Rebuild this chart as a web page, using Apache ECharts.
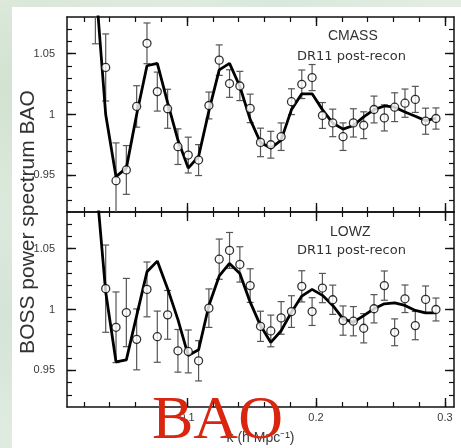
<!DOCTYPE html>
<html>
<head>
<meta charset="utf-8">
<style>
  html, body { margin: 0; padding: 0; }
  body {
    width: 461px; height: 448px; overflow: hidden; position: relative;
    background:
      radial-gradient(ellipse at 8% 20%, #cfe1cf 0%, rgba(207,225,207,0) 30%),
      radial-gradient(ellipse at 3% 70%, #d3e4d6 0%, rgba(211,228,214,0) 35%),
      radial-gradient(ellipse at 60% 0%, #d8e8dc 0%, rgba(216,232,220,0) 40%),
      #e3ede2;
  }
  #sheet { position: absolute; left: 12px; top: 7px; right: 0; bottom: 0; background: #ffffff; }
  #chart { position: absolute; left: 0; top: 0; width: 461px; height: 448px; }
</style>
<script src="https://cdn.jsdelivr.net/npm/echarts@6/dist/echarts.min.js"></script>
</head>
<body>
<div id="sheet"></div>
<div id="chart"></div>
<script>
// Wavenumber bins k [h/Mpc]
const kBins = [0.029, 0.037, 0.045, 0.053, 0.061, 0.069, 0.077, 0.085, 0.093, 0.101,
               0.109, 0.117, 0.125, 0.133, 0.141, 0.149, 0.157, 0.165, 0.173, 0.181,
               0.189, 0.197, 0.205, 0.213, 0.221, 0.229, 0.237, 0.245, 0.253, 0.261,
               0.269, 0.277, 0.285, 0.293];

// CMASS measured BAO ratio and 1-sigma errors (one per k bin)
const cmassPk  = [1.090, 1.0386, 0.9457, 0.9545, 1.0066, 1.0584, 1.0188, 1.0047, 0.9736, 0.9667,
                  0.9626, 1.0074, 1.0446, 1.0254, 1.0234, 1.0050, 0.9771, 0.9752, 0.9818, 1.0105,
                  1.0248, 1.0303, 0.9992, 0.9931, 0.9818, 0.9931, 0.9912, 1.0041, 0.9972, 1.0060,
                  1.0093, 1.0124, 0.9945, 0.9967];
const cmassErr = [0.032, 0.0275, 0.031, 0.020, 0.017, 0.0167, 0.016, 0.016, 0.0146, 0.0147,
                  0.0127, 0.011, 0.0125, 0.0113, 0.012, 0.0117, 0.0117, 0.011, 0.0113, 0.0106,
                  0.0117, 0.0107, 0.0106, 0.0113, 0.0113, 0.0116, 0.011, 0.011, 0.0107, 0.0118,
                  0.0116, 0.0107, 0.0107, 0.0087];
// CMASS best-fit model
const cmassModel = [1.110, 1.000, 0.949, 0.956, 1.000, 1.040, 1.042, 1.0097, 0.979, 0.956,
                    0.9655, 1.003, 1.0366, 1.042, 1.023, 0.996, 0.977, 0.9725, 0.979, 1.004,
                    1.017, 1.017, 1.004, 0.993, 0.988, 0.991, 0.998, 1.004, 1.007, 1.006,
                    1.002, 0.9986, 0.995, 0.997];

// LOWZ measurements start at the second k bin
const lowzK   = kBins.slice(1);
const lowzPk  = [1.0171, 0.9854, 0.9975, 0.9755, 1.0165, 0.9777, 0.9956, 0.9661, 0.9656, 0.9579,
                 1.0011, 1.0413, 1.0485, 1.0370, 1.0196, 0.9862, 0.9824, 0.9931, 0.9983, 1.0190,
                 0.9983, 1.0176, 1.0080, 0.9909, 0.9904, 0.9846, 1.0006, 1.0196, 0.9813, 1.0088,
                 0.9868, 1.0083, 1.0000];
const lowzErr = [0.0358, 0.029, 0.028, 0.025, 0.0225, 0.021, 0.020, 0.0175, 0.0176, 0.0165,
                 0.0158, 0.0165, 0.0147, 0.0145, 0.0138, 0.0124, 0.013, 0.0134, 0.013, 0.0128,
                 0.0114, 0.012, 0.012, 0.012, 0.012, 0.012, 0.0116, 0.012, 0.011, 0.0113,
                 0.0116, 0.011, 0.0094];
const lowzModel = [1.112, 1.0143, 0.957, 0.9587, 0.995, 1.0309, 1.0397, 1.0171, 0.9917, 0.9622,
                   0.9669, 1.0033, 1.0275, 1.0378, 1.0295, 1.006, 0.9868, 0.973, 0.9826, 0.9978,
                   1.011, 1.0165, 1.0116, 1.0033, 0.9923, 0.9895, 0.995, 1.0006, 1.0047, 1.0055,
                   1.0033, 0.9992, 0.9972, 0.9972];

// Axis ticks and labels
const kMinorTicks = [0.02, 0.04, 0.06, 0.08, 0.10, 0.12, 0.14, 0.16, 0.18, 0.20,
                     0.22, 0.24, 0.26, 0.28, 0.30];
const kMajorTicks = [0.1, 0.2, 0.3];
const yMinorTicks = [0.93, 0.94, 0.95, 0.96, 0.97, 0.98, 0.99, 1.00,
                     1.01, 1.02, 1.03, 1.04, 1.05, 1.06, 1.07];
const yMajorTicks = [0.95, 1.0, 1.05];

const K_MIN = 0.007, K_MAX = 0.307;
const Y_MIN = 0.92, Y_MAX = 1.08;
const INK = '#111';
const LABEL = '#3a3a3a';
const FONT = '"Liberation Sans", Arial, sans-serif';

function fmt(v) { return String(+(+v).toFixed(2)); }

function kAxes(grid, withLabels) {
  const base = { type: 'value', gridIndex: grid, min: K_MIN, max: K_MAX,
                 splitLine: { show: false } };
  const line = { show: true, onZero: false, lineStyle: { color: INK, width: 1.5 } };
  const noLine = { show: false, onZero: false };
  return [
    Object.assign({}, base, { position: 'bottom', axisLine: line,
      axisTick: { show: true, inside: true, length: 5, customValues: kMinorTicks,
                  lineStyle: { color: INK, width: 1.2 } },
      axisLabel: { show: withLabels, customValues: kMajorTicks, formatter: fmt, margin: 5,
                   color: LABEL, fontSize: 11, fontFamily: FONT },
      name: withLabels ? 'k (h Mpc\u207B\u00B9)' : '', nameLocation: 'middle', nameGap: 24,
      nameTextStyle: { color: LABEL, fontSize: 14, fontFamily: FONT } }),
    Object.assign({}, base, { position: 'bottom', axisLine: noLine,
      axisTick: { show: true, inside: true, length: 9, customValues: kMajorTicks,
                  lineStyle: { color: INK, width: 1.4 } },
      axisLabel: { show: false } }),
    Object.assign({}, base, { position: 'top', axisLine: line,
      axisTick: { show: true, inside: true, length: 5, customValues: kMinorTicks,
                  lineStyle: { color: INK, width: 1.2 } },
      axisLabel: { show: false } }),
    Object.assign({}, base, { position: 'top', axisLine: noLine,
      axisTick: { show: true, inside: true, length: 9, customValues: kMajorTicks,
                  lineStyle: { color: INK, width: 1.4 } },
      axisLabel: { show: false } })
  ];
}

function ratioAxes(grid) {
  const base = { type: 'value', gridIndex: grid, min: Y_MIN, max: Y_MAX,
                 splitLine: { show: false } };
  const line = { show: true, onZero: false, lineStyle: { color: INK, width: 1.5 } };
  const noLine = { show: false, onZero: false };
  return [
    Object.assign({}, base, { position: 'left', axisLine: line,
      axisTick: { show: true, inside: true, length: 5, customValues: yMinorTicks,
                  lineStyle: { color: INK, width: 1.2 } },
      axisLabel: { show: true, customValues: yMajorTicks, formatter: fmt, margin: 12,
                   color: LABEL, fontSize: 11, fontFamily: FONT } }),
    Object.assign({}, base, { position: 'left', axisLine: noLine,
      axisTick: { show: true, inside: true, length: 9, customValues: yMajorTicks,
                  lineStyle: { color: INK, width: 1.4 } },
      axisLabel: { show: false } }),
    Object.assign({}, base, { position: 'right', axisLine: line,
      axisTick: { show: true, inside: true, length: 5, customValues: yMinorTicks,
                  lineStyle: { color: INK, width: 1.2 } },
      axisLabel: { show: false } }),
    Object.assign({}, base, { position: 'right', axisLine: noLine,
      axisTick: { show: true, inside: true, length: 9, customValues: yMajorTicks,
                  lineStyle: { color: INK, width: 1.4 } },
      axisLabel: { show: false } })
  ];
}

function renderErrorBar(params, api) {
  const x = api.value(0), y = api.value(1), e = api.value(2);
  const hi = api.coord([x, y + e]);
  const lo = api.coord([x, y - e]);
  const cap = 3.5;
  const style = { stroke: '#555', lineWidth: 1.2 };
  return {
    type: 'group',
    children: [
      { type: 'line', shape: { x1: hi[0], y1: hi[1], x2: lo[0], y2: lo[1] }, style: style },
      { type: 'line', shape: { x1: hi[0] - cap, y1: hi[1], x2: hi[0] + cap, y2: hi[1] }, style: style },
      { type: 'line', shape: { x1: lo[0] - cap, y1: lo[1], x2: lo[0] + cap, y2: lo[1] }, style: style }
    ]
  };
}

function zip(ks, a, b) { return ks.map((k, i) => b ? [k, a[i], b[i]] : [k, a[i]]); }

function panelSeries(xi, yi, ks, pk, err, modelK, model) {
  return [
    { type: 'custom', xAxisIndex: xi, yAxisIndex: yi, clip: true, z: 2,
      renderItem: renderErrorBar, encode: { x: 0, y: 1 }, data: zip(ks, pk, err) },
    { type: 'line', xAxisIndex: xi, yAxisIndex: yi, clip: true, z: 3, symbol: 'none',
      lineStyle: { color: '#000', width: 2.8 }, data: zip(modelK, model) },
    { type: 'scatter', xAxisIndex: xi, yAxisIndex: yi, clip: true, z: 4,
      symbol: 'circle', symbolSize: 8,
      itemStyle: { color: '#fff', borderColor: '#000', borderWidth: 1.3 },
      data: zip(ks, pk) }
  ];
}

const chart = echarts.init(document.getElementById('chart'), null, { renderer: 'canvas' });

chart.setOption({
  animation: false,
  backgroundColor: 'transparent',
  grid: [
    { left: 67, width: 387, top: 17, height: 195 },
    { left: 67, width: 387, top: 212, height: 195 }
  ],
  xAxis: kAxes(0, false).concat(kAxes(1, true)),
  yAxis: ratioAxes(0).concat(ratioAxes(1)),
  series: [].concat(
    panelSeries(0, 0, kBins, cmassPk, cmassErr, kBins, cmassModel),
    panelSeries(4, 4, lowzK, lowzPk, lowzErr, kBins, lowzModel)
  ),
  graphic: [
    { type: 'text', left: 328, top: 29, z: 10,
      style: { text: 'CMASS', font: '14px ' + FONT, fill: '#333' } },
    { type: 'text', left: 297, top: 50, z: 10,
      style: { text: 'DR11 post-recon', font: '13px "DejaVu Sans", sans-serif', fill: '#333' } },
    { type: 'text', left: 330, top: 225, z: 10,
      style: { text: 'LOWZ', font: '14px ' + FONT, fill: '#333' } },
    { type: 'text', left: 297, top: 244, z: 10,
      style: { text: 'DR11 post-recon', font: '13px "DejaVu Sans", sans-serif', fill: '#333' } },
    { type: 'text', x: 28, y: 222, rotation: Math.PI / 2, z: 10,
      style: { text: 'BOSS power spectrum BAO', font: '21px ' + FONT, fill: '#333',
               align: 'center', verticalAlign: 'middle' } },
    { type: 'text', x: 152, y: 453, z: 20,
      style: { text: 'BAO', font: '62px "Liberation Serif", "Times New Roman", serif',
               fill: '#d8260f', align: 'left', verticalAlign: 'bottom' } }
  ]
});
</script>
</body>
</html>
